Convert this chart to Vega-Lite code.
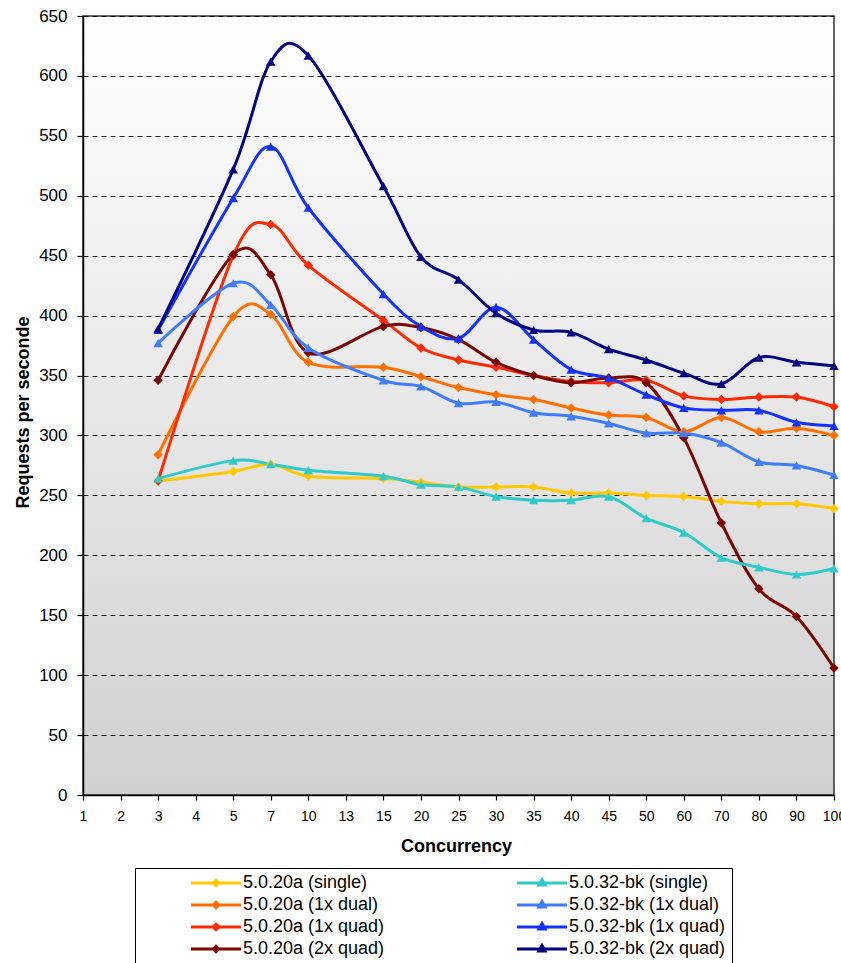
{
  "$schema": "https://vega.github.io/schema/vega-lite/v6.json",
  "width": 751,
  "height": 779,
  "autosize": {"type": "none"},
  "padding": {"left": 83, "top": 16, "right": 7, "bottom": 168},
  "background": "#ffffff",
  "config": {
    "font": "Liberation Sans",
    "view": {
      "fill": {"gradient": "linear", "x1": 0, "y1": 0, "x2": 0, "y2": 1,
        "stops": [{"offset": 0, "color": "#ffffff"}, {"offset": 1, "color": "#d0d0d0"}]},
      "stroke": "#333333",
      "strokeWidth": 1.5
    }
  },
  "data": {"values": [
    {"c":3,"s":"5.0.20a (single)","v":262},{"c":5,"s":"5.0.20a (single)","v":270},{"c":7,"s":"5.0.20a (single)","v":276},{"c":10,"s":"5.0.20a (single)","v":266},{"c":15,"s":"5.0.20a (single)","v":264},{"c":20,"s":"5.0.20a (single)","v":261},{"c":25,"s":"5.0.20a (single)","v":257},{"c":30,"s":"5.0.20a (single)","v":257},{"c":35,"s":"5.0.20a (single)","v":257},{"c":40,"s":"5.0.20a (single)","v":252},{"c":45,"s":"5.0.20a (single)","v":252},{"c":50,"s":"5.0.20a (single)","v":250},{"c":60,"s":"5.0.20a (single)","v":249},{"c":70,"s":"5.0.20a (single)","v":245},{"c":80,"s":"5.0.20a (single)","v":243},{"c":90,"s":"5.0.20a (single)","v":243},{"c":100,"s":"5.0.20a (single)","v":239},
    {"c":3,"s":"5.0.20a (1x dual)","v":284},{"c":5,"s":"5.0.20a (1x dual)","v":399},{"c":7,"s":"5.0.20a (1x dual)","v":401},{"c":10,"s":"5.0.20a (1x dual)","v":361},{"c":15,"s":"5.0.20a (1x dual)","v":357},{"c":20,"s":"5.0.20a (1x dual)","v":349},{"c":25,"s":"5.0.20a (1x dual)","v":340},{"c":30,"s":"5.0.20a (1x dual)","v":334},{"c":35,"s":"5.0.20a (1x dual)","v":330},{"c":40,"s":"5.0.20a (1x dual)","v":323},{"c":45,"s":"5.0.20a (1x dual)","v":317},{"c":50,"s":"5.0.20a (1x dual)","v":315},{"c":60,"s":"5.0.20a (1x dual)","v":303},{"c":70,"s":"5.0.20a (1x dual)","v":315},{"c":80,"s":"5.0.20a (1x dual)","v":303},{"c":90,"s":"5.0.20a (1x dual)","v":306},{"c":100,"s":"5.0.20a (1x dual)","v":300},
    {"c":3,"s":"5.0.20a (1x quad)","v":262},{"c":5,"s":"5.0.20a (1x quad)","v":450},{"c":7,"s":"5.0.20a (1x quad)","v":476},{"c":10,"s":"5.0.20a (1x quad)","v":442},{"c":15,"s":"5.0.20a (1x quad)","v":396},{"c":20,"s":"5.0.20a (1x quad)","v":373},{"c":25,"s":"5.0.20a (1x quad)","v":363},{"c":30,"s":"5.0.20a (1x quad)","v":357},{"c":35,"s":"5.0.20a (1x quad)","v":350},{"c":40,"s":"5.0.20a (1x quad)","v":345},{"c":45,"s":"5.0.20a (1x quad)","v":344},{"c":50,"s":"5.0.20a (1x quad)","v":346},{"c":60,"s":"5.0.20a (1x quad)","v":333},{"c":70,"s":"5.0.20a (1x quad)","v":330},{"c":80,"s":"5.0.20a (1x quad)","v":332},{"c":90,"s":"5.0.20a (1x quad)","v":332},{"c":100,"s":"5.0.20a (1x quad)","v":324},
    {"c":3,"s":"5.0.20a (2x quad)","v":346},{"c":5,"s":"5.0.20a (2x quad)","v":451},{"c":7,"s":"5.0.20a (2x quad)","v":434},{"c":10,"s":"5.0.20a (2x quad)","v":369},{"c":15,"s":"5.0.20a (2x quad)","v":391},{"c":20,"s":"5.0.20a (2x quad)","v":390},{"c":25,"s":"5.0.20a (2x quad)","v":380},{"c":30,"s":"5.0.20a (2x quad)","v":361},{"c":35,"s":"5.0.20a (2x quad)","v":350},{"c":40,"s":"5.0.20a (2x quad)","v":344},{"c":45,"s":"5.0.20a (2x quad)","v":348},{"c":50,"s":"5.0.20a (2x quad)","v":344},{"c":60,"s":"5.0.20a (2x quad)","v":298},{"c":70,"s":"5.0.20a (2x quad)","v":227},{"c":80,"s":"5.0.20a (2x quad)","v":172},{"c":90,"s":"5.0.20a (2x quad)","v":149},{"c":100,"s":"5.0.20a (2x quad)","v":106},
    {"c":3,"s":"5.0.32-bk (single)","v":264},{"c":5,"s":"5.0.32-bk (single)","v":279},{"c":7,"s":"5.0.32-bk (single)","v":276},{"c":10,"s":"5.0.32-bk (single)","v":271},{"c":15,"s":"5.0.32-bk (single)","v":266},{"c":20,"s":"5.0.32-bk (single)","v":259},{"c":25,"s":"5.0.32-bk (single)","v":257},{"c":30,"s":"5.0.32-bk (single)","v":249},{"c":35,"s":"5.0.32-bk (single)","v":246},{"c":40,"s":"5.0.32-bk (single)","v":246},{"c":45,"s":"5.0.32-bk (single)","v":249},{"c":50,"s":"5.0.32-bk (single)","v":231},{"c":60,"s":"5.0.32-bk (single)","v":219},{"c":70,"s":"5.0.32-bk (single)","v":198},{"c":80,"s":"5.0.32-bk (single)","v":190},{"c":90,"s":"5.0.32-bk (single)","v":184},{"c":100,"s":"5.0.32-bk (single)","v":189},
    {"c":3,"s":"5.0.32-bk (1x dual)","v":377},{"c":5,"s":"5.0.32-bk (1x dual)","v":427},{"c":7,"s":"5.0.32-bk (1x dual)","v":409},{"c":10,"s":"5.0.32-bk (1x dual)","v":373},{"c":15,"s":"5.0.32-bk (1x dual)","v":346},{"c":20,"s":"5.0.32-bk (1x dual)","v":341},{"c":25,"s":"5.0.32-bk (1x dual)","v":327},{"c":30,"s":"5.0.32-bk (1x dual)","v":328},{"c":35,"s":"5.0.32-bk (1x dual)","v":319},{"c":40,"s":"5.0.32-bk (1x dual)","v":316},{"c":45,"s":"5.0.32-bk (1x dual)","v":310},{"c":50,"s":"5.0.32-bk (1x dual)","v":302},{"c":60,"s":"5.0.32-bk (1x dual)","v":302},{"c":70,"s":"5.0.32-bk (1x dual)","v":294},{"c":80,"s":"5.0.32-bk (1x dual)","v":278},{"c":90,"s":"5.0.32-bk (1x dual)","v":275},{"c":100,"s":"5.0.32-bk (1x dual)","v":267},
    {"c":3,"s":"5.0.32-bk (1x quad)","v":388},{"c":5,"s":"5.0.32-bk (1x quad)","v":498},{"c":7,"s":"5.0.32-bk (1x quad)","v":541},{"c":10,"s":"5.0.32-bk (1x quad)","v":490},{"c":15,"s":"5.0.32-bk (1x quad)","v":418},{"c":20,"s":"5.0.32-bk (1x quad)","v":391},{"c":25,"s":"5.0.32-bk (1x quad)","v":381},{"c":30,"s":"5.0.32-bk (1x quad)","v":407},{"c":35,"s":"5.0.32-bk (1x quad)","v":380},{"c":40,"s":"5.0.32-bk (1x quad)","v":355},{"c":45,"s":"5.0.32-bk (1x quad)","v":348},{"c":50,"s":"5.0.32-bk (1x quad)","v":334},{"c":60,"s":"5.0.32-bk (1x quad)","v":323},{"c":70,"s":"5.0.32-bk (1x quad)","v":321},{"c":80,"s":"5.0.32-bk (1x quad)","v":321},{"c":90,"s":"5.0.32-bk (1x quad)","v":311},{"c":100,"s":"5.0.32-bk (1x quad)","v":308},
    {"c":3,"s":"5.0.32-bk (2x quad)","v":389},{"c":5,"s":"5.0.32-bk (2x quad)","v":522},{"c":7,"s":"5.0.32-bk (2x quad)","v":612},{"c":10,"s":"5.0.32-bk (2x quad)","v":617},{"c":15,"s":"5.0.32-bk (2x quad)","v":508},{"c":20,"s":"5.0.32-bk (2x quad)","v":449},{"c":25,"s":"5.0.32-bk (2x quad)","v":430},{"c":30,"s":"5.0.32-bk (2x quad)","v":402},{"c":35,"s":"5.0.32-bk (2x quad)","v":388},{"c":40,"s":"5.0.32-bk (2x quad)","v":386},{"c":45,"s":"5.0.32-bk (2x quad)","v":372},{"c":50,"s":"5.0.32-bk (2x quad)","v":363},{"c":60,"s":"5.0.32-bk (2x quad)","v":352},{"c":70,"s":"5.0.32-bk (2x quad)","v":343},{"c":80,"s":"5.0.32-bk (2x quad)","v":365},{"c":90,"s":"5.0.32-bk (2x quad)","v":361},{"c":100,"s":"5.0.32-bk (2x quad)","v":358}
  ]},
  "encoding": {
    "x": {
      "field": "c", "type": "ordinal",
      "scale": {"type": "point", "padding": 0, "domain": [1,2,3,4,5,7,10,13,15,20,25,30,35,40,45,50,60,70,80,90,100]},
      "axis": {
        "title": "Concurrency", "titleFont": "Liberation Sans", "titleFontSize": 18, "titleFontWeight": "bold", "titleColor": "#000000",
        "titleX": 373, "titleY": 56, "titleBaseline": "alphabetic", "titleAnchor": null,
        "labelAngle": 0, "labelFont": "Liberation Sans Narrow, Liberation Sans", "labelFontSize": 14, "labelColor": "#000000", "labelPadding": 9,
        "domainColor": "#000000", "domainWidth": 1.5, "tickColor": "#000000", "tickSize": 5, "tickWidth": 1.2, "grid": false
      }
    },
    "y": {
      "field": "v", "type": "quantitative",
      "scale": {"domain": [0, 650], "nice": false, "zero": true},
      "axis": {
        "title": "Requests per seconde", "titleFont": "Liberation Sans", "titleFontSize": 18, "titleFontWeight": "bold", "titleColor": "#000000",
        "titleX": -55, "titleY": 396, "titleBaseline": "alphabetic", "titleAngle": -90, "titleAlign": "center", "titleAnchor": null,
        "values": [0,50,100,150,200,250,300,350,400,450,500,550,600,650],
        "labelFontSize": 17, "labelColor": "#000000", "labelPadding": 10,
        "domainColor": "#000000", "domainWidth": 1.5, "tickColor": "#000000", "tickSize": 6, "tickWidth": 1.2,
        "grid": true, "gridColor": "#000000", "gridDash": [5, 4], "gridWidth": 1.2, "gridOpacity": 0.85
      }
    },
    "color": {
      "field": "s", "type": "nominal",
      "scale": {
        "domain": ["5.0.20a (single)","5.0.32-bk (single)","5.0.20a (1x dual)","5.0.32-bk (1x dual)","5.0.20a (1x quad)","5.0.32-bk (1x quad)","5.0.20a (2x quad)","5.0.32-bk (2x quad)"],
        "range": ["#FFC800","#2FCACA","#FF7000","#3F7CFF","#FF2A00","#1432FF","#7A0500","#000080"]
      },
      "legend": {
        "orient": "none", "legendX": 52, "legendY": 852,
        "direction": "horizontal", "columns": 2, "columnPadding": 126, "rowPadding": 3,
        "title": " ", "titleOrient": "left", "titleFontSize": 2, "titlePadding": 66,
        "padding": 6, "fillColor": "#ffffff", "strokeColor": "#000000",
        "symbolSize": 100, "symbolStrokeWidth": 3, "symbolOpacity": 1, "labelOffset": 18,
        "labelFont": "Liberation Sans", "labelFontSize": 18, "labelColor": "#000000",
        "labelExpr": "indexof(datum.label, '32-bk') >= 0 ? datum.label + '\u00a0\u00a0\u00a0\u00a0\u00a0\u00a0\u00a0\u00a0\u00a0\u00a0\u00a0\u00a0\u00a0\u00a0\u00a0\u00a0' : datum.label"
      }
    }
  },
  "layer": [
    {"mark": {"type": "line", "interpolate": "cardinal", "strokeWidth": 3}},
    {
      "mark": {"type": "point", "filled": true, "opacity": 0, "size": 100},
      "encoding": {
        "shape": {
          "field": "s", "type": "nominal",
          "legend": {"title": " "},
          "scale": {
            "domain": ["5.0.20a (single)","5.0.32-bk (single)","5.0.20a (1x dual)","5.0.32-bk (1x dual)","5.0.20a (1x quad)","5.0.32-bk (1x quad)","5.0.20a (2x quad)","5.0.32-bk (2x quad)"],
            "range": [
              "M-5,0H5M0,-0.55L0.55,0L0,0.55L-0.55,0Z",
              "M-5,0H5M0,-0.7L0.62,0.42L-0.62,0.42Z",
              "M-5,0H5M0,-0.55L0.55,0L0,0.55L-0.55,0Z",
              "M-5,0H5M0,-0.7L0.62,0.42L-0.62,0.42Z",
              "M-5,0H5M0,-0.55L0.55,0L0,0.55L-0.55,0Z",
              "M-5,0H5M0,-0.7L0.62,0.42L-0.62,0.42Z",
              "M-5,0H5M0,-0.55L0.55,0L0,0.55L-0.55,0Z",
              "M-5,0H5M0,-0.7L0.62,0.42L-0.62,0.42Z"
            ]
          }
        }
      }
    },
    {
      "transform": [{"filter": "indexof(datum.s, '32-bk') < 0"}],
      "mark": {"type": "point", "filled": true, "opacity": 1, "size": 90, "shape": "diamond"}
    },
    {
      "transform": [{"filter": "indexof(datum.s, '32-bk') >= 0"}],
      "mark": {"type": "point", "filled": true, "opacity": 1, "size": 90, "shape": "triangle-up"}
    }
  ]
}
